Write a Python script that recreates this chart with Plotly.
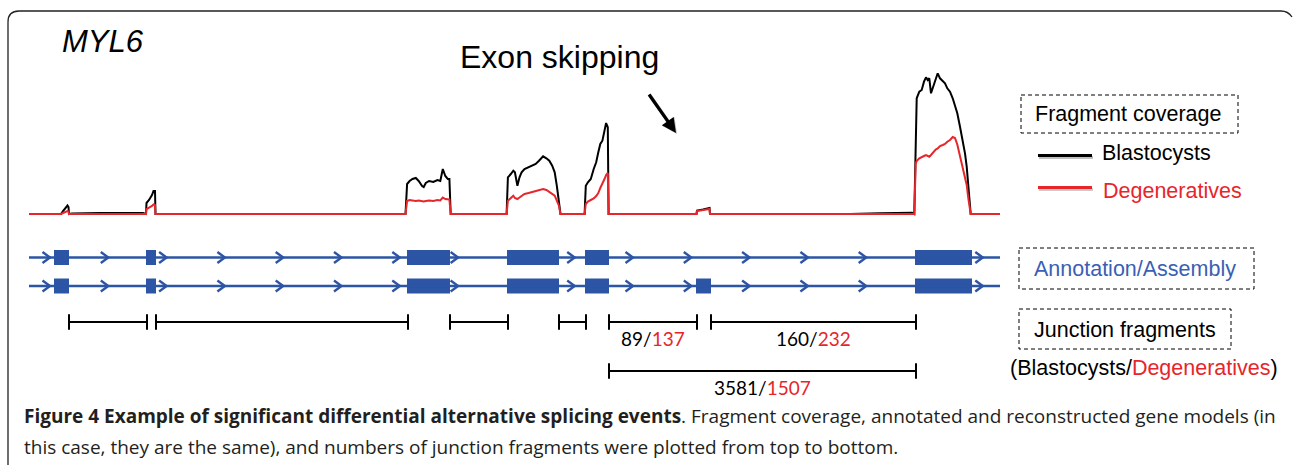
import plotly.graph_objects as go

W, H = 1293, 465

# ---------------- data ----------------
gene_start, gene_end = 29, 1000
# gene model rows: 0 = annotation, 1 = assembly
exon_start_annot = [54, 146, 407, 507, 585, 915]
exon_end_annot = [69, 156, 450, 559, 609, 972]
exon_start_assem = [54, 146, 407, 507, 585, 696, 915]
exon_end_assem = [69, 156, 450, 559, 609, 711, 972]

# junction fragments
junction_start = [69, 156, 450, 559, 609, 711, 609]
junction_end = [147, 408, 508, 586, 697, 916, 916]
junction_row = [0, 0, 0, 0, 0, 0, 1]
junction_blast = [None, None, None, None, 89, 160, 3581]
junction_degen = [None, None, None, None, 137, 232, 1507]

# coverage (relative units) per segment: positions, Blastocysts, Degeneratives
cov_e1_pos = [61, 63, 65, 67.5, 68.5, 69]
cov_e1_blast = [0, 3, 6, 8.5, 7, 0]
cov_e1_degen = [0, 1, 2, 3, 2.5, 0]

cov_i1_pos = [72, 100, 143, 145]
cov_i1_blast = [0.4, 1.0, 1.0, 0]
cov_i1_degen = [0, 0, 0, 0]

cov_e2_pos = [146, 146.5, 149, 152, 153.5, 155, 155.5]
cov_e2_blast = [0, 11, 14, 19, 23, 23, 0]
cov_e2_degen = [0, 5, 6, 8, 9.5, 9, 0]

cov_e3_pos = [405.5, 407.1, 409.6, 412.5, 415.8, 418.7, 422.1, 423.7, 425.8, 429.1,
              433.3, 437.4, 440.3, 442.8, 445.3, 447.8, 449.4, 450.7]
cov_e3_blast = [0, 30, 33, 35, 36, 33, 28, 27, 31, 33, 32, 34, 33, 45, 38, 35, 35, 0]
cov_e3_degen = [0, 13, 14, 13.5, 13, 13.5, 12.5, 12.5, 13, 13.5, 13, 14, 13.5, 16.5,
                15, 15, 14.5, 0]

cov_e4_pos = [506.6, 507.9, 510.8, 513.3, 514.9, 517.4, 519.5, 521.6, 524.5, 528.6,
              532.8, 535.7, 539.0, 543.1, 546.4, 549.3, 552.2, 554.7, 556.8, 558.9, 560.5]
cov_e4_blast = [0, 36.7, 40, 43.3, 41.7, 28.3, 36.7, 41.7, 45, 46.7, 48.3, 50, 53.3,
                57.7, 55.7, 53.3, 48.3, 41.7, 28.3, 11.7, 0]
cov_e4_degen = [0, 13.3, 15.7, 18.3, 16, 15, 16.5, 17.7, 20, 21, 22, 22.7, 24, 25, 24,
                21.7, 20, 18.3, 13.3, 8.3, 0]

cov_e5_pos = [584.6, 585.8, 587.9, 590.8, 593.7, 596.2, 598.3, 600.3, 602.4, 604.5,
              606.1, 607.8, 608.6]
cov_e5_blast = [0, 28.3, 31.7, 35, 45, 51.7, 61.7, 70, 73.3, 83.3, 91, 86.7, 0]
cov_e5_degen = [0, 10, 12.5, 14, 15.5, 18, 21, 26, 30, 35, 39, 41, 0]

cov_e6_pos = [696.5, 697, 703, 709.5, 710]
cov_e6_blast = [0, 3.5, 4.5, 6, 0]
cov_e6_degen = [0, 3, 4, 5, 0]

cov_i6_pos = [850, 880, 912]
cov_i6_blast = [0, 0.8, 1.2]
cov_i6_degen = [0, 0, 0]

cov_e7_pos = [914.3, 915.7, 916.7, 919.3, 921.7, 924, 926, 927.7, 929.3, 931, 933.3,
              935.7, 937.7, 940, 942.7, 945, 947.3, 950, 952.7, 955, 957.3, 960,
              962.7, 965, 966.7, 968.3, 970, 970.7]
cov_e7_blast = [0, 87.3, 115.7, 122.3, 124, 132.3, 136.7, 134, 135.7, 120.7, 127.3,
                135.7, 140.7, 135.7, 133.3, 130.7, 125.7, 122.3, 115.7, 107.3, 100.7,
                87.3, 74, 60.7, 47.3, 27.3, 7.3, 0]
cov_e7_degen = [0, 50.7, 53, 55.7, 57.3, 58, 59, 58, 57.3, 59, 62.3, 64.5, 65.5, 68,
                69, 70, 72.3, 74, 77, 76, 69.5, 58, 48, 39, 29, 16, 5, 0]

segments = [
    (cov_e1_pos, cov_e1_blast, cov_e1_degen),
    (cov_i1_pos, cov_i1_blast, cov_i1_degen),
    (cov_e2_pos, cov_e2_blast, cov_e2_degen),
    (cov_e3_pos, cov_e3_blast, cov_e3_degen),
    (cov_e4_pos, cov_e4_blast, cov_e4_degen),
    (cov_e5_pos, cov_e5_blast, cov_e5_degen),
    (cov_e6_pos, cov_e6_blast, cov_e6_degen),
    (cov_i6_pos, cov_i6_blast, cov_i6_degen),
    (cov_e7_pos, cov_e7_blast, cov_e7_degen),
]

# ---------------- style / layout ----------------
BLUE = "#2d55a5"
RED = "#e6262b"
TXT = "#231f20"
ARIAL = "Liberation Sans, Arial, sans-serif"
CAPTION_FONT = "Open Sans, sans-serif"
COV_BASE_PX = 214           # pixel row of zero coverage
ROW_Y = [257.5, 286]         # gene model rows
JUNC_Y = [322, 371]          # junction rows
EXON_H = 15
CHEVRON_STEP = 58.3
CHEVRON_FIRST = 50
CHEV_W, CHEV_H = 7.5, 5.5

fig = go.Figure()

# coverage curves
bx, by, rx, ry = [gene_start], [0], [gene_start], [0]
for p, b, d in segments:
    bx += p; by += b
    rx += p; ry += d
bx.append(gene_end); by.append(0)
rx.append(gene_end); ry.append(0)
fig.add_trace(go.Scatter(x=bx, y=by, mode="lines", yaxis="y2",
                         line=dict(color="black", width=2), hoverinfo="skip"))
fig.add_trace(go.Scatter(x=rx, y=ry, mode="lines", yaxis="y2",
                         line=dict(color=RED, width=2), hoverinfo="skip"))

# gene models
for row, (starts, ends) in enumerate([(exon_start_annot, exon_end_annot),
                                      (exon_start_assem, exon_end_assem)]):
    y0 = ROW_Y[row]
    fig.add_trace(go.Scatter(x=[gene_start, gene_end], y=[y0, y0], mode="lines",
                             line=dict(color=BLUE, width=2.6), hoverinfo="skip"))
    cx, cy = [], []
    t = CHEVRON_FIRST
    while t < gene_end:
        if not any(s - 1 <= t <= e + 7 for s, e in zip(starts, ends)):
            cx += [t - CHEV_W, t, t - CHEV_W, None]
            cy += [y0 - CHEV_H, y0, y0 + CHEV_H, None]
        t += CHEVRON_STEP
    fig.add_trace(go.Scatter(x=cx, y=cy, mode="lines",
                             line=dict(color=BLUE, width=2.4), hoverinfo="skip"))
    fig.add_trace(go.Bar(orientation="h", base=starts,
                         x=[e - s for s, e in zip(starts, ends)],
                         y=[y0] * len(starts), width=EXON_H,
                         marker=dict(color=BLUE, line=dict(width=0)),
                         hoverinfo="skip"))

# junction fragments
jx, jy = [], []
for s, e, r in zip(junction_start, junction_end, junction_row):
    jx += [s, e, None]
    jy += [JUNC_Y[r], JUNC_Y[r], None]
fig.add_trace(go.Scatter(x=jx, y=jy, mode="lines+markers",
                         line=dict(color="black", width=2),
                         marker=dict(symbol="line-ns", size=11,
                                     line=dict(color="black", width=2)),
                         hoverinfo="skip"))

annotations = []
for s, e, r, nb, nd in zip(junction_start, junction_end, junction_row,
                           junction_blast, junction_degen):
    if nb is None:
        continue
    annotations.append(dict(
        x=(s + e) / 2, y=JUNC_Y[r] + 16, xref="x", yref="y", showarrow=False,
        text=f"{nb}/<span style='color:{RED}'>{nd}</span>",
        font=dict(family="Lato, sans-serif", size=19, color="black")))

# titles
annotations += [
    dict(x=60, y=41, xref="x", yref="y", xanchor="left", showarrow=False,
         text="<i>MYL6</i>", font=dict(family=ARIAL, size=31, color="black")),
    dict(x=458, y=57, xref="x", yref="y", xanchor="left", showarrow=False,
         text="Exon skipping", font=dict(family=ARIAL, size=32, color="black")),
    dict(x=677, y=134, ax=649, ay=94, xref="x", yref="y", axref="x", ayref="y",
         showarrow=True, arrowhead=2, arrowsize=0.9, arrowwidth=3.4,
         arrowcolor="rgba(0,0,0,0.25)", text=""),
    dict(x=676, y=133, ax=648, ay=93, xref="x", yref="y", axref="x", ayref="y",
         showarrow=True, arrowhead=2, arrowsize=0.9, arrowwidth=3.2,
         arrowcolor="black", text=""),
    dict(x=1128, y=114, xref="x", yref="y", showarrow=False,
         text="Fragment coverage", font=dict(family=ARIAL, size=21.5, color="black")),
    dict(x=1100, y=153, xref="x", yref="y", xanchor="left", showarrow=False,
         text="Blastocysts", font=dict(family=ARIAL, size=21.5, color="black")),
    dict(x=1101, y=191, xref="x", yref="y", xanchor="left", showarrow=False,
         text="Degeneratives", font=dict(family=ARIAL, size=21.5, color=RED)),
    dict(x=1135, y=269, xref="x", yref="y", showarrow=False,
         text="Annotation/Assembly", font=dict(family=ARIAL, size=21.5, color="#3a5fb4")),
    dict(x=1125, y=330, xref="x", yref="y", showarrow=False,
         text="Junction fragments", font=dict(family=ARIAL, size=21.5, color="black")),
    dict(x=1144, y=368, xref="x", yref="y", showarrow=False,
         text=f"(Blastocysts/<span style='color:{RED}'>Degeneratives</span>)",
         font=dict(family=ARIAL, size=21.5, color="black")),
    dict(x=22, y=416, xref="x", yref="y", xanchor="left", showarrow=False,
         text="<b>Figure 4 Example of significant differential alternative splicing events</b>. "
              "Fragment coverage, annotated and reconstructed gene models (in",
         font=dict(family=CAPTION_FONT, size=19, color=TXT)),
    dict(x=22, y=447, xref="x", yref="y", xanchor="left", showarrow=False,
         text="this case, they are the same), and numbers of junction fragments were "
              "plotted from top to bottom.",
         font=dict(family=CAPTION_FONT, size=19, color=TXT)),
]

shapes = [
    # frame
    dict(type="path", xref="x", yref="y",
         path="M 8,466 L 8,22 Q 8,11 19,11 L 1281,11 Q 1288,11 1292,17",
         line=dict(color="#222", width=1.3)),
    # dashed legend boxes
    dict(type="rect", xref="x", yref="y", x0=1021, x1=1238, y0=95, y1=133,
         line=dict(color="black", width=1, dash="4px,3px")),
    dict(type="rect", xref="x", yref="y", x0=1019, x1=1254, y0=248, y1=289,
         line=dict(color="black", width=1, dash="4px,3px")),
    dict(type="rect", xref="x", yref="y", x0=1019, x1=1231, y0=309, y1=349,
         line=dict(color="black", width=1, dash="4px,3px")),
    # legend lines with shadow
    dict(type="line", xref="x", yref="y", x0=1039, x1=1093, y0=157.5, y1=157.5,
         line=dict(color="rgba(0,0,0,0.25)", width=3)),
    dict(type="line", xref="x", yref="y", x0=1038, x1=1092, y0=155.5, y1=155.5,
         line=dict(color="black", width=3)),
    dict(type="line", xref="x", yref="y", x0=1039, x1=1093, y0=189.5, y1=189.5,
         line=dict(color="rgba(0,0,0,0.2)", width=3)),
    dict(type="line", xref="x", yref="y", x0=1038, x1=1092, y0=187.5, y1=187.5,
         line=dict(color=RED, width=3)),
]

fig.update_layout(
    width=W, height=H, margin=dict(l=0, r=0, t=0, b=0),
    paper_bgcolor="white", plot_bgcolor="white", showlegend=False,
    barmode="overlay",
    xaxis=dict(range=[0, W], visible=False, fixedrange=True),
    yaxis=dict(range=[H, 0], visible=False, fixedrange=True),
    yaxis2=dict(range=[-(H - COV_BASE_PX), COV_BASE_PX], overlaying="y",
                visible=False, fixedrange=True),
    annotations=annotations, shapes=shapes,
)

fig.write_html("out.html")
